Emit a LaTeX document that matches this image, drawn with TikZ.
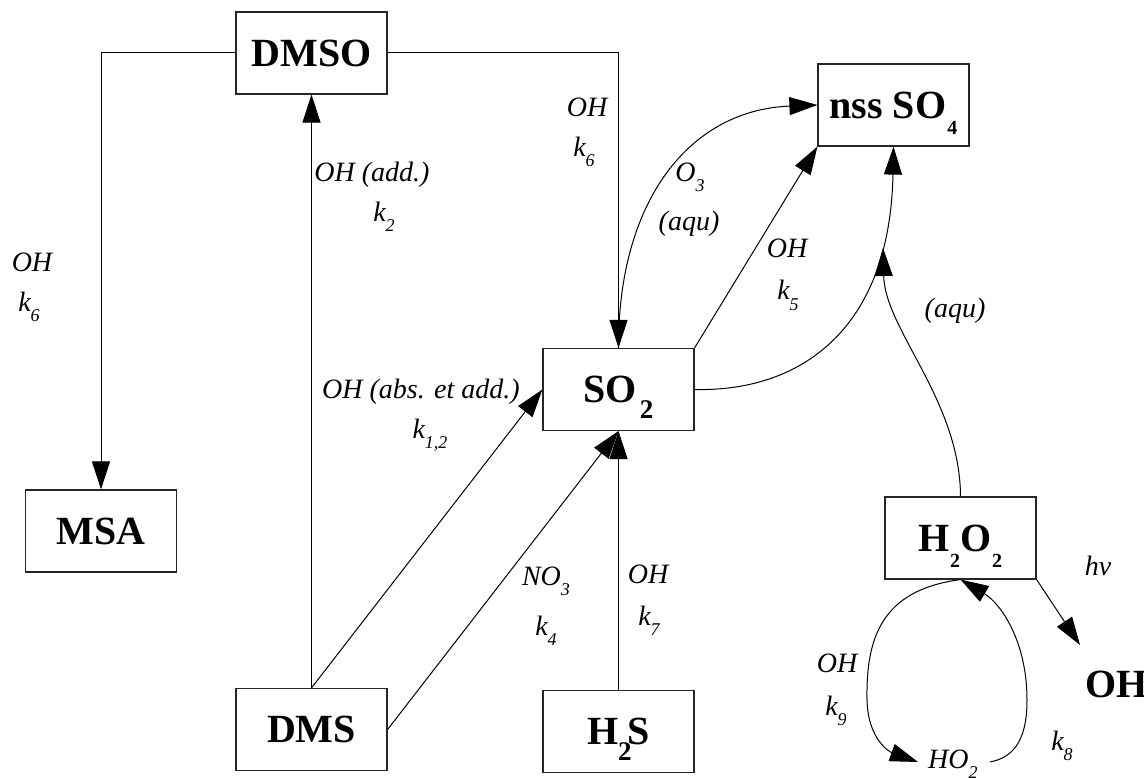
\documentclass[tikz,border=0pt]{standalone}
\usepackage{fontspec}
\setmainfont{Liberation Serif}
\usetikzlibrary{arrows.meta}
\newcommand{\mybsub}[2]{\raisebox{-16pt}[0pt][0pt]{\fontsize{#1}{#1}\selectfont #2}}
\newcommand{\myisub}[1]{\raisebox{-10pt}[0pt][0pt]{\fontsize{18}{18}\selectfont #1}}
\begin{document}
\begin{tikzpicture}[x=1pt,y=-1pt,
 box/.style={draw=black!85, line width=1.2pt, minimum width=151pt, minimum height=82pt, inner sep=0pt, font=\fontsize{40}{40}\selectfont\bfseries},
 lab/.style={font=\fontsize{28}{28}\selectfont\itshape, inner sep=0pt, anchor=base},
 arr/.style={-{Triangle[length=28pt,width=18pt]}, line width=1pt}]
\useasboundingbox[fill=white] (0,0) rectangle (1144,778);
% boxes
\node[box] (dmso) at (311.5,53) {DMSO};
\node[box] (nss) at (893.5,105) {nss SO\hspace{1pt}\mybsub{20}{4}};
\node[box] (so2) at (618.5,389.5) {SO\hspace{3pt}\mybsub{27}{2}};
\node[box] (msa) at (101,531) {MSA};
\node[box] (dms) at (311.5,729.5) {DMS};
\node[box] (h2s) at (618.5,731.5) {H\mybsub{27}{2}\hspace{-4pt}S};
\node[box] (h2o2) at (960.5,538) {H\mybsub{20}{2}O\hspace{1pt}\mybsub{20}{2}};
\node[font=\fontsize{40}{40}\selectfont\bfseries, inner sep=0pt, anchor=base west] (ohb) at (1085,697) {OH};
% labels
\node[lab] (l1a) at (32,272) {OH};
\node[lab] (l1b) at (29,312) {k\myisub{6}};
\node[lab] (l2a) at (372,182) {OH (add.)};
\node[lab] (l2b) at (384,222) {k\myisub{2}};
\node[lab] (l3a) at (587,117) {OH};
\node[lab] (l3b) at (584,157) {k\myisub{6}};
\node[lab] (l4a) at (690,182) {O\myisub{3}};
\node[lab] (l4b) at (689,231) {(aqu)};
\node[lab] (l5a) at (787,258) {OH};
\node[lab] (l5b) at (788,300) {k\myisub{5}};
\node[lab] (l6) at (955,317) {(aqu)};
\node[lab] (l7a) at (421,398) {OH (abs. et add.)};
\node[lab] (l7b) at (430,438) {k\myisub{1,2}};
\node[lab] (l8a) at (546,585) {NO\myisub{3}};
\node[lab] (l8b) at (546,635) {k\myisub{4}};
\node[lab] (l9a) at (648,583) {OH};
\node[lab] (l9b) at (649,625) {k\myisub{7}};
\node[lab] (l10) at (1098,575) {hν};
\node[lab] (l11a) at (837,672) {OH};
\node[lab] (l11b) at (836,715) {k\myisub{9}};
\node[lab] (l12) at (1062,750) {k\myisub{8}};
\node[lab, anchor=base west] (ho2) at (928,768) {HO\myisub{2}};
% free ends
\coordinate (ho2in) at (918,762);
\coordinate (ho2out) at (990,762);
\coordinate (ohin) at (1080,645);
\coordinate (aqjoin) at (883,248);
% connectors
\draw[arr] (dmso.west) -| (msa.north);
\draw[arr] (dmso.east) -| (so2.north);
\draw[arr] (dms.north) -- (dmso.south);
\draw[arr] (dms.north) -- (so2.west);
\draw[arr] (dms.east) -- (so2.south);
\draw[arr] (h2s.north) -- (so2.south);
\draw[arr] (so2.north east) -- (nss.south west);
\draw[arr] (so2.north) .. controls (618,200) and (690,110) .. (nss.west);
\draw[arr] (so2.east) .. controls (800,392) and (890,330) .. (nss.south);
\draw[arr] (h2o2.north) .. controls (960,400) and (885,330) .. (aqjoin);
\draw[arr] (h2o2.south east) -- (ohin);
\draw[arr] (h2o2.south) .. controls (880,590) and (866,640) .. (867,700) .. controls (868,740) and (890,752) .. (ho2in);
\draw[arr] (ho2out) .. controls (1010,758) and (1027,745) .. (1027,700) .. controls (1027,640) and (1000,603) .. (h2o2.south);
\end{tikzpicture}
\end{document}
